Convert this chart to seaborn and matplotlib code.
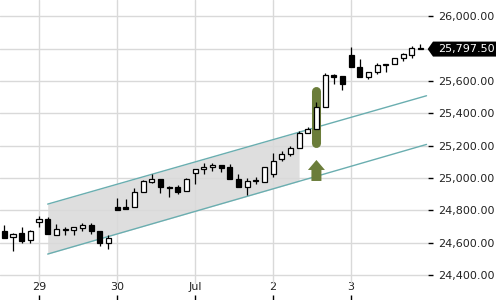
import numpy as np
import pandas as pd
import seaborn as sns
import matplotlib.pyplot as plt
from matplotlib.patches import Polygon
from matplotlib.transforms import IdentityTransform

# hourly candles
opens = [24672, 24633, 24658, 24617, 24726, 24747, 24646, 24678, 24678, 24693,
         24709, 24672, 24596, 24819, 24819, 24819, 24915, 24977, 24992, 24947,
         24943, 24920, 25029, 25054, 25068, 25080, 25066, 24992, 24946, 24980,
         24977, 25025, 25118, 25147, 25184, 25276, 25301, 25437, 25637, 25631,
         25761, 25685, 25623, 25654, 25701, 25705, 25740, 25761, 25805]
highs = [24709, 24660, 24695, 24678, 24765, 24757, 24716, 24699, 24695, 24720,
         24722, 24672, 24648, 24875, 24870, 24938, 24988, 25023, 24992, 24951,
         24957, 24998, 25054, 25091, 25095, 25080, 25087, 25025, 24998, 25008,
         25066, 25153, 25167, 25198, 25291, 25314, 25470, 25651, 25641, 25631,
         25808, 25736, 25656, 25709, 25707, 25740, 25771, 25816, 25827]
lows = [24631, 24550, 24600, 24596, 24695, 24652, 24646, 24650, 24646, 24670,
        24652, 24581, 24563, 24802, 24810, 24819, 24912, 24971, 24905, 24884,
        24899, 24920, 24961, 25025, 25043, 25039, 24992, 24946, 24895, 24963,
        24977, 25004, 25107, 25138, 25184, 25276, 25301, 25437, 25581, 25544,
        25685, 25623, 25610, 25641, 25657, 25705, 25725, 25740, 25797.5]
closes = [24631, 24654, 24612, 24670, 24745, 24652, 24683, 24680, 24695, 24708,
          24672, 24600, 24627, 24802, 24810, 24912, 24982, 24992, 24943, 24938,
          24915, 24994, 25054, 25070, 25080, 25064, 24992, 24946, 24980, 24988,
          25066, 25107, 25148, 25184, 25276, 25301, 25437, 25637, 25625, 25579,
          25685, 25623, 25656, 25699, 25705, 25740, 25767, 25802, 25797.5]

day_labels = ["29", "30", "Jul", "2", "3"]
day_pos = [4, 13, 22, 31, 40]
price_ticks = [24400, 24600, 24800, 25000, 25200, 25400, 25600, 25800, 26000]

channel_x = [5, 48.7]
channel_upper = [24839, 25509]
channel_lower = [24530, 25208]
shade_x = [5, 34]

gap_bar_x = 36
gap_bar = [25218, 25541]
arrow_base = 24982
last_price = 25797.50

sns.set_theme(style="white")
plt.rcParams['font.family'] = ['DejaVu Sans']

df = pd.DataFrame({"open": opens, "high": highs, "low": lows, "close": closes})
df["x"] = np.arange(len(df))
df["up"] = df["close"] >= df["open"]

fig = plt.figure(figsize=(5, 3), dpi=100)
ax = fig.add_axes([0, 0, 0.856, 1])
ax.set_xlim(-0.5, 48.87)
ax.set_ylim(24246, 26101)
for s in ax.spines.values():
    s.set_visible(False)

# grid
grid_c = "#d9d9d9"
for p in price_ticks:
    ax.axhline(p, color=grid_c, lw=1, zorder=1)
for d in day_pos:
    ax.axvline(d, ymin=0.057, ymax=1, color=grid_c, lw=1, zorder=1)

# channel
lo_fill = np.interp(shade_x, channel_x, channel_lower)
hi_fill = np.interp(shade_x, channel_x, channel_upper)
ax.fill_between(shade_x, lo_fill, hi_fill, color="#dcdcdc", alpha=0.92, lw=0, zorder=0.8)
sns.lineplot(x=channel_x, y=channel_upper, color="#6aaeb0", lw=1, ax=ax, zorder=2)
sns.lineplot(x=channel_x, y=channel_lower, color="#6aaeb0", lw=1, ax=ax, zorder=2)

# green gap marker
green = "#6b7d3a"
ax.plot([gap_bar_x, gap_bar_x], gap_bar, color=green, lw=6.5,
        solid_capstyle="round", zorder=2.5)

# candles
ax.vlines(df["x"], df["low"], df["high"], color="black", lw=0.9, zorder=3)
body_lo = df[["open", "close"]].min(axis=1)
body_h = (df["close"] - df["open"]).abs().clip(lower=4)
ax.bar(df["x"], body_h, bottom=body_lo, width=0.58,
       color=np.where(df["up"], "white", "black"), edgecolor="black",
       linewidth=0.9, zorder=4)

# ticks
ax.set_xticks(day_pos, day_labels)
ax.set_yticks(price_ticks, [f"{p:,.2f}" for p in price_ticks])
ax.yaxis.tick_right()
ax.tick_params(axis="y", right=True, direction="out", length=3.6, width=1,
               color="black", pad=3.6, labelsize=8, labelcolor="#222222")
ax.tick_params(axis="x", bottom=True, direction="in", length=3.6, width=1,
               color="black", pad=-13, labelsize=8, labelcolor="#222222")

fig.canvas.draw()
# up arrow under the gap marker (pixel shape)
bx, by = ax.transData.transform((gap_bar_x, arrow_base))
shape = [(-5, 0), (5, 0), (5, 11), (8.5, 11), (0, 21), (-8.5, 11), (-5, 11)]
ax.add_patch(Polygon([(bx + dx, by + dy) for dx, dy in shape], closed=True,
                     facecolor=green, edgecolor="none",
                     transform=IdentityTransform(), zorder=2.5))

# last price tag
_, yc = ax.transData.transform((0, last_price))
tag = [(427.7, yc), (433, yc + 7.5), (496, yc + 7.5), (496, yc - 7.5), (433, yc - 7.5)]
fig.add_artist(Polygon(tag, closed=True, facecolor="black", edgecolor="none",
                       transform=IdentityTransform(), clip_on=False))
fig.text(438 / 500, yc / 300, f"{last_price:,.2f}", color="white", fontsize=8,
         va="center", ha="left")

fig.savefig("out.png", dpi=100)
